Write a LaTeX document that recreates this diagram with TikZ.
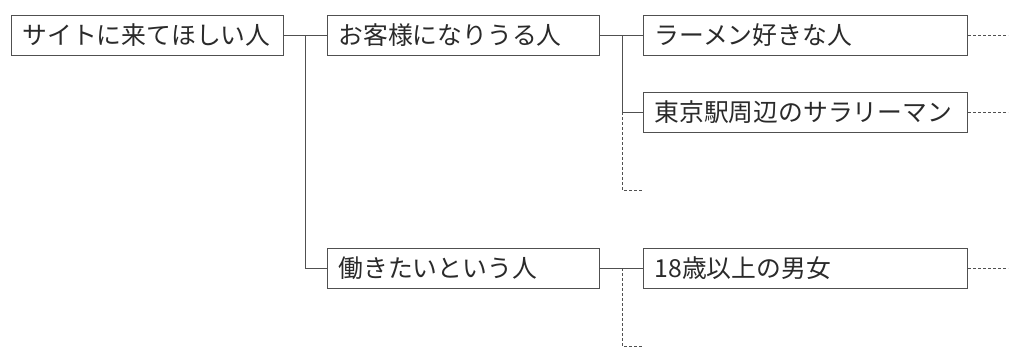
\documentclass[tikz,border=0pt]{standalone}
\usepackage{fontspec}
\setmainfont{Noto Sans CJK JP}
\definecolor{linegray}{HTML}{505050}
\definecolor{txt}{HTML}{2a2a2a}
\begin{document}
\begin{tikzpicture}[x=1pt,y=-1pt,
  box/.style={draw=linegray, line width=1pt, fill=white, text=txt,
    minimum height=40pt, inner xsep=11pt, inner ysep=0pt, align=left,
    font=\fontsize{24.8}{28}\selectfont, anchor=west},
  shortbox/.style={box, text width=250pt},
  longbox/.style={box, text width=302pt},
  conn/.style={draw=linegray, line width=1pt},
  dconn/.style={draw=linegray, line width=0.9pt, dash pattern=on 3pt off 2pt}]
\useasboundingbox (0,0) rectangle (1024,359);
\node[shortbox] (b1) at (11,35) {サイトに来てほしい人};
\node[shortbox] (b2) at (327,35) {お客様になりうる人};
\node[shortbox] (b5) at (327,268) {働きたいという人};
\node[longbox] (b3) at (643,35) {ラーメン好きな人};
\node[longbox] (b4) at (643,112) {東京駅周辺のサラリーマン};
\node[longbox] (b6) at (643,268) {18歳以上の男女};
\coordinate (j1) at (305,35);
\coordinate (j2) at (622,35);
\coordinate (j2b) at (622,112);
\coordinate (j3) at (622,268);
\coordinate (d1) at (642,190);
\coordinate (d2) at (642,346);
\coordinate (e3) at (1008,35);
\coordinate (e4) at (1008,112);
\coordinate (e6) at (1008,268);
\draw[conn] (b1.east) -- (b2.west);
\draw[conn] (j1) |- (b5.west);
\draw[conn] (b2.east) -- (b3.west);
\draw[conn] (j2) |- (b4.west);
\draw[conn] (b5.east) -- (b6.west);
\draw[dconn] (j2b) |- (d1);
\draw[dconn] (j3) |- (d2);
\draw[dconn] (b3.east) -- (e3);
\draw[dconn] (b4.east) -- (e4);
\draw[dconn] (b6.east) -- (e6);
\end{tikzpicture}
\end{document}
